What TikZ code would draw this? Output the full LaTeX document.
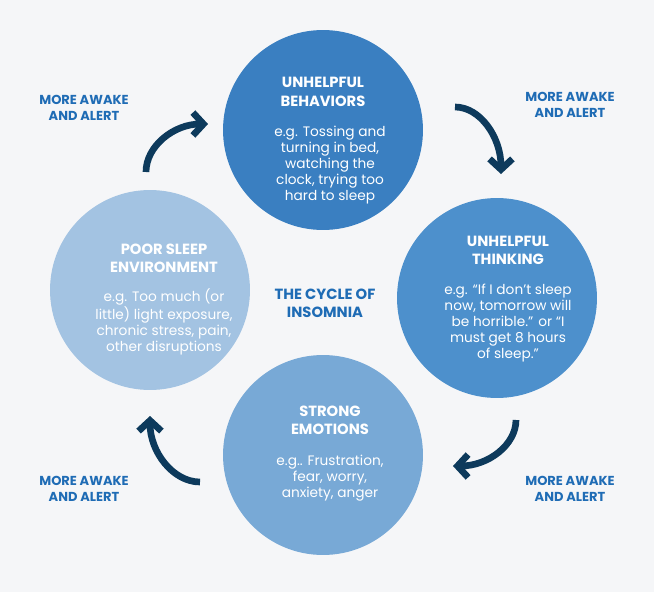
\documentclass[tikz,border=0pt]{standalone}
\usepackage{fontspec}
\setmainfont{Poppins}
\usetikzlibrary{arrows.meta}
\definecolor{bgc}{HTML}{F5F6F8}
\definecolor{cTop}{HTML}{3A7FC1}
\definecolor{cRight}{HTML}{4D90CC}
\definecolor{cBottom}{HTML}{78A9D6}
\definecolor{cLeft}{HTML}{A3C3E2}
\definecolor{labelblue}{HTML}{1F6CB5}
\definecolor{arrowc}{HTML}{0D3A5C}
\begin{document}
\begin{tikzpicture}[x=0.02cm,y=-0.02cm,
  stage/.style={circle,minimum size=4cm,inner sep=0pt},
  title/.style={font=\bfseries\fontsize{8.4}{10.4}\selectfont,text=white,align=center},
  body/.style={font=\fontsize{7.8}{9.1}\selectfont,text=white,align=center},
  alert/.style={font=\bfseries\fontsize{7.4}{9.4}\selectfont,text=labelblue,align=center},
  cyc/.style={draw=arrowc,line width=3.8pt,-{Straight Barb[length=6pt,width=13pt,line width=3.8pt]}}]
  \fill[bgc] (0,0) rectangle (654,592);
  \useasboundingbox (0,0) rectangle (654,592);
  % circles
  \node[stage,fill=cLeft]   (envir) at (150,290) {};
  \node[stage,fill=cBottom] (emot)  at (323,455) {};
  \node[stage,fill=cRight]  (think) at (497,298) {};
  \node[stage,fill=cTop]    (behav) at (323,130) {};
  % texts
  \node[title] at (323,92)  {UNHELPFUL\\BEHAVIORS};
  \node[body]  at (330,165) {e.g. Tossing and\\turning in bed,\\watching the\\clock, trying too\\hard to sleep};
  \node[title] at (508,250) {UNHELPFUL\\THINKING};
  \node[body]  at (508,323) {e.g. ``If I don’t sleep\\now, tomorrow will\\be horrible.'' or ``I\\must get 8 hours\\of sleep.''};
  \node[title] at (330,420) {STRONG\\EMOTIONS};
  \node[body]  at (330,478) {e.g.. Frustration,\\fear, worry,\\anxiety, anger};
  \node[title] at (164,258) {POOR SLEEP\\ENVIRONMENT};
  \node[body]  at (164,322) {e.g. Too much (or\\little) light exposure,\\chronic stress, pain,\\other disruptions};
  \node[alert,font=\bfseries\fontsize{8.4}{10.4}\selectfont] (cycle) at (325,303) {THE CYCLE OF\\INSOMNIA};
  % labels
  \node[alert] (lbTL) at (84,108) {MORE AWAKE\\AND ALERT};
  \node[alert] (lbTR) at (570,105) {MORE AWAKE\\AND ALERT};
  \node[alert] (lbBR) at (570,489) {MORE AWAKE\\AND ALERT};
  \node[alert] (lbBL) at (84,489) {MORE AWAKE\\AND ALERT};
  % arrows
  \coordinate (a1) at (146,172); \coordinate (a2) at (208,124);
  \coordinate (b1) at (455,107); \coordinate (b2) at (501,174);
  \coordinate (c1) at (516,420); \coordinate (c2) at (453,466);
  \coordinate (d1) at (200,482); \coordinate (d2) at (150,416);
  \draw[cyc] (a1) .. controls (146,146) and (174,124) .. (a2);
  \draw[cyc] (b1) .. controls (480,107) and (501,137) .. (b2);
  \draw[cyc] (c1) .. controls (516,445) and (488,466) .. (c2);
  \draw[cyc] (d1) .. controls (173,482) and (150,452) .. (d2);
\end{tikzpicture}
\end{document}
